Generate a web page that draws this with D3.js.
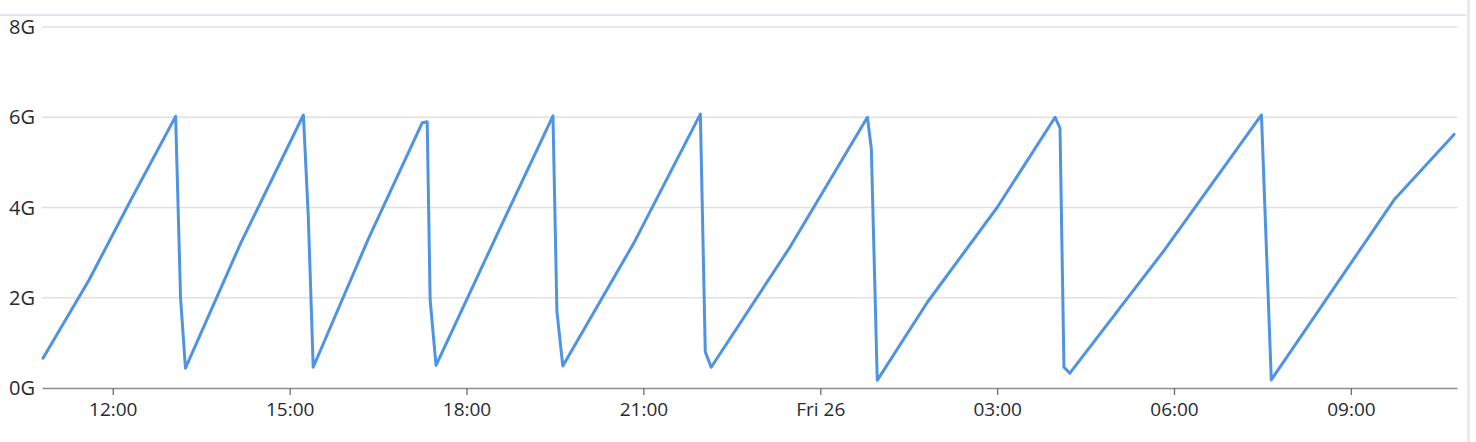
<!DOCTYPE html>
<html>
<head>
<meta charset="utf-8">
<script src="https://cdn.jsdelivr.net/npm/d3@7"></script>
<style>
  body { margin: 0; background: #fff; font-family: "Open Sans", "Noto Sans", sans-serif; }
  svg { display: block; }
</style>
</head>
<body>
<div id="graph"></div>
<script>
// data (times are local, Thu 25 -> Fri 26)
const times = [
  "2024-01-25 10:49", "2024-01-25 11:36", "2024-01-25 12:18", "2024-01-25 13:04",
  "2024-01-25 13:09", "2024-01-25 13:14", "2024-01-25 14:10", "2024-01-25 15:14",
  "2024-01-25 15:19", "2024-01-25 15:24", "2024-01-25 16:20", "2024-01-25 17:15",
  "2024-01-25 17:20", "2024-01-25 17:23", "2024-01-25 17:29", "2024-01-25 18:30",
  "2024-01-25 19:28", "2024-01-25 19:32", "2024-01-25 19:38", "2024-01-25 20:50",
  "2024-01-25 21:58", "2024-01-25 22:03", "2024-01-25 22:09", "2024-01-25 23:30",
  "2024-01-26 00:48", "2024-01-26 00:52", "2024-01-26 00:58", "2024-01-26 01:49",
  "2024-01-26 03:00", "2024-01-26 03:59", "2024-01-26 04:04", "2024-01-26 04:08",
  "2024-01-26 04:14", "2024-01-26 05:50", "2024-01-26 07:29", "2024-01-26 07:39",
  "2024-01-26 09:44", "2024-01-26 10:45"
];
const values = [
  0.66, 2.4, 4.15, 6.02,
  2.0, 0.44, 3.2, 6.05,
  3.8, 0.46, 3.3, 5.88,
  5.9, 1.95, 0.5, 3.35,
  6.03, 1.7, 0.49, 3.2,
  6.07, 0.8, 0.46, 3.15,
  6.0, 5.3, 0.17, 1.9,
  4.0, 6.0, 5.76, 0.46,
  0.33, 3.05, 6.05, 0.18,
  4.17, 5.62
];
const yTicks = [0, 2, 4, 6, 8];
const timeStart = "2024-01-25 10:48";
const timeEnd = "2024-01-26 10:48";

const parseT = d3.timeParse("%Y-%m-%d %H:%M");
const data = times.map((t, i) => ({ t: parseT(t), v: values[i] }));

const W = 1476, H = 442;
const padL = 42, padR = 1457, padT = 27, padB = 388;

const svg = d3.select("#graph").append("svg")
  .attr("width", W)
  .attr("height", H);

// panel frame bits
svg.append("line")
  .attr("x1", 0).attr("x2", 1466).attr("y1", 15).attr("y2", 15)
  .attr("stroke", "#e2e5ec").attr("stroke-width", 2);
svg.append("rect")
  .attr("x", 1467).attr("y", 0).attr("width", 3).attr("height", H)
  .attr("fill", "#e8eaf1");

const x = d3.scaleTime()
  .domain([parseT(timeStart), parseT(timeEnd)])
  .range([padL, padR]);
const y = d3.scaleLinear()
  .domain([0, 8])
  .range([padB, padT]);

// gridlines
svg.append("g")
  .selectAll("line")
  .data(yTicks.filter(d => d > 0))
  .join("line")
  .attr("x1", padL).attr("x2", padR)
  .attr("y1", d => y(d)).attr("y2", d => y(d))
  .attr("stroke", "#e0e0e0").attr("stroke-width", 1.3);

// y labels
svg.append("g")
  .selectAll("text")
  .data(yTicks)
  .join("text")
  .attr("x", 35)
  .attr("y", d => y(d))
  .attr("dy", "0.36em")
  .attr("text-anchor", "end")
  .attr("fill", "#262b31")
  .style("font-size", "20px")
  .text(d => d + "G");

// x axis
const fmt = d => (d.getHours() === 0 ? d3.timeFormat("%a %d")(d) : d3.timeFormat("%H:%M")(d));
const xAxis = d3.axisBottom(x)
  .ticks(d3.timeHour.every(3))
  .tickSize(7)
  .tickSizeOuter(0)
  .tickFormat(fmt);
const gx = svg.append("g")
  .attr("transform", "translate(0," + padB + ")")
  .call(xAxis);
gx.select(".domain").attr("stroke", "#8a8d91").attr("stroke-width", 1.3);
gx.selectAll(".tick line").attr("stroke", "#6b6e72").attr("stroke-width", 1.3);
gx.selectAll(".tick text")
  .attr("y", 15)
  .attr("fill", "#262b31")
  .style("font-family", "'Open Sans', 'Noto Sans', sans-serif")
  .style("font-size", "19px");

// series
const line = d3.line()
  .x(d => x(d.t))
  .y(d => y(d.v));
svg.append("path")
  .datum(data)
  .attr("d", line)
  .attr("fill", "none")
  .attr("stroke", "#4f93e3")
  .attr("stroke-width", 3)
  .attr("stroke-linejoin", "round")
  .attr("stroke-linecap", "round");
</script>
</body>
</html>
